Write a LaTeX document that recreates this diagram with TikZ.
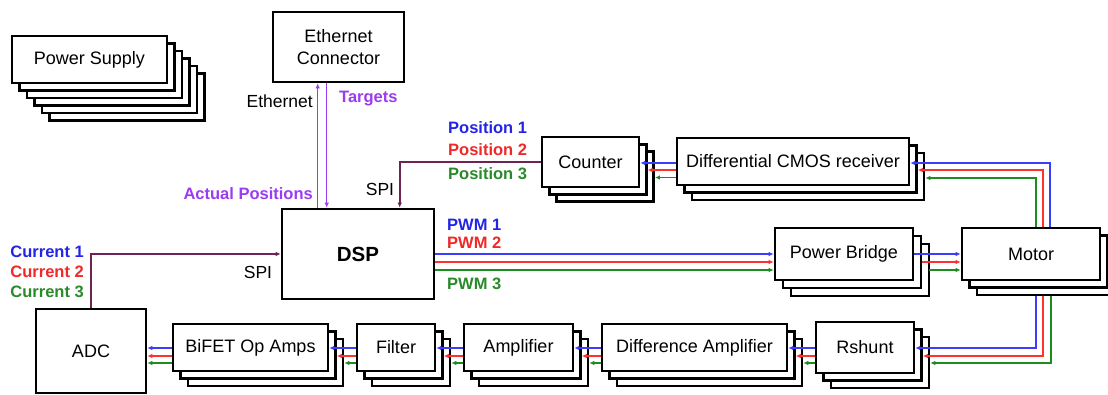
\documentclass[tikz,border=0pt]{standalone}
\usepackage{fontspec}
\setmainfont{Liberation Sans}
\usetikzlibrary{calc,arrows.meta}
\definecolor{cbluet}{HTML}{2424E8}
\definecolor{credt}{HTML}{F02828}
\definecolor{cgreent}{HTML}{2A8A2A}
\definecolor{cbluel}{HTML}{3C3CFF}
\definecolor{credl}{HTML}{FF3030}
\definecolor{cgreenl}{HTML}{1E8C1E}
\definecolor{cpur}{HTML}{9B3CF0}
\definecolor{cspi}{RGB}{110,35,85}
\newcommand\stackbox[8]{%
  \ifnum#6>0
  \foreach \k in {#6,...,1}{%
    \draw[layer] (#2-#4/2+\k*#7, #3-#5/2+\k*#7) rectangle (#2+#4/2+\k*#7, #3+#5/2+\k*#7);}%
  \fi
  \node[box, minimum width=#4pt, minimum height=#5pt] (#1) at (#2,#3) {#8};}
\newcommand\trilines[3]{%
  \coordinate (t1) at ($(#1.west)+(0,0.5)$);
  \draw[cbl] (t1) -- (t1 -| #2.east);
  \coordinate (t2) at ($(#1.west)+(0,8.5)$);
  \draw[crl] (t2) -- ($(t2 -| #2.east)+(#3,0)$);
  \coordinate (t3) at ($(#1.west)+(0,15.5)$);
  \draw[cgl] (t3) -- ($(t3 -| #2.east)+({2*#3},0)$);}
\begin{document}
\begin{tikzpicture}[x=1pt,y=-1pt,
  box/.style={draw=black, line width=2.6pt, fill=white, inner sep=0pt, align=center,
    font=\fontsize{18}{22}\selectfont},
  layer/.style={draw=black, line width=2.6pt, fill=white},
  lab/.style={inner sep=0pt, font=\bfseries\fontsize{16.5}{19}\selectfont},
  txt/.style={inner sep=0pt, font=\fontsize{17.5}{20}\selectfont},
  tip/.style={-{Latex[length=5pt,width=4.5pt]}},
  cbl/.style={tip, draw=cbluel, line width=1.1pt},
  crl/.style={tip, draw=credl, line width=1.1pt},
  cgl/.style={tip, draw=cgreenl, line width=1.1pt},
  pconn/.style={tip, draw=cpur, line width=1.4pt},
  spi/.style={tip, draw=cspi, line width=1.8pt}]
\clip (0,0) rectangle (1108,394);
\fill[white] (0,0) rectangle (1108,394);
% boxes
\stackbox{ps}{89.5}{59.5}{155}{47}{5}{7.5}{Power Supply}
\stackbox{eth}{338.5}{47}{131}{70}{0}{0}{Ethernet\\Connector}
\stackbox{dsp}{358}{254}{152}{90}{0}{0}{\bfseries\fontsize{20.5}{24}\selectfont DSP}
\stackbox{counter}{590.5}{162}{97}{50}{2}{7.3}{Counter}
\stackbox{diff}{793}{161.5}{232}{47}{2}{7.5}{Differential CMOS receiver}
\stackbox{pb}{844}{254}{138}{52}{2}{8}{Power Bridge}
\stackbox{motor}{1031}{254}{138}{52}{2}{7.5}{Motor}
\stackbox{adc}{91}{351}{110}{84}{0}{0}{ADC}
\stackbox{bifet}{250.5}{347.5}{155}{47}{2}{7.5}{BiFET Op Amps}
\stackbox{filt}{396}{347.5}{78}{47}{2}{7.5}{Filter}
\stackbox{amp}{518.5}{347.5}{109}{47}{2}{7.5}{Amplifier}
\stackbox{damp}{694.5}{347.5}{185}{47}{2}{7.5}{Difference Amplifier}
\stackbox{rs}{865}{347.5}{98}{51}{2}{7.5}{Rshunt}
% ethernet connectors
\coordinate (e1) at ($(dsp.north west)+(37,0)$);
\coordinate (e2) at ($(dsp.north west)+(46,0)$);
\draw[pconn] (e1) -- (e1 |- eth.south);
\draw[pconn] (e2 |- eth.south) -- (e2);
% SPI lines
\coordinate (s1) at ($(dsp.north west)+(119,0)$);
\draw[spi] (counter.west) -| (s1);
\draw[spi] (adc.north) |- (dsp.west);
% Diff -> Counter
\coordinate (d1) at ($(diff.west)+(0,1.5)$);
\draw[cbl] (d1) -- (d1 -| counter.east);
\coordinate (d2) at ($(diff.west)+(0,8.5)$);
\draw[crl] (d2) -- ($(d2 -| counter.east)+(7.3,0)$);
\coordinate (d3) at ($(diff.west)+(0,16)$);
\draw[cgl] (d3) -- ($(d3 -| counter.east)+(14.6,0)$);
% Motor -> Diff
\draw[cbl] ($(motor.north)+(19,0)$) |- ($(diff.east)+(0,1.5)$);
\draw[crl] ($(motor.north)+(12,0)$) |- ($(diff.east)+(7.5,8.5)$);
\draw[cgl] ($(motor.north)+(5,0)$) |- ($(diff.east)+(15,16.5)$);
% DSP -> Power Bridge
\coordinate (p1) at (dsp.east);
\draw[cbl] (p1) -- (p1 -| pb.west);
\coordinate (p2) at ($(dsp.east)+(0,8)$);
\draw[crl] (p2) -- (p2 -| pb.west);
\coordinate (p3) at ($(dsp.east)+(0,16)$);
\draw[cgl] (p3) -- (p3 -| pb.west);
% Power Bridge -> Motor
\coordinate (q1) at (pb.east);
\draw[cbl] (q1) -- (q1 -| motor.west);
\coordinate (q2) at ($(pb.east)+(8,8)$);
\draw[crl] (q2) -- (q2 -| motor.west);
\coordinate (q3) at ($(pb.east)+(15,16)$);
\draw[cgl] (q3) -- (q3 -| motor.west);
% Motor -> Rshunt
\draw[cbl] ($(motor.south)+(5,15)$) |- ($(rs.east)+(0,0.5)$);
\draw[crl] ($(motor.south)+(12,15)$) |- ($(rs.east)+(7.5,8.5)$);
\draw[cgl] ($(motor.south)+(20,15)$) |- ($(rs.east)+(15,15.5)$);
% bottom chain
\trilines{rs}{damp}{7.5}
\trilines{damp}{amp}{7.5}
\trilines{amp}{filt}{7.5}
\trilines{filt}{bifet}{7.5}
\trilines{bifet}{adc}{0}
% labels
\node[txt, anchor=east] (lEth) at (313,101) {Ethernet};
\node[lab, text=cpur, anchor=west] (lTar) at (339,99) {Targets};
\node[lab, text=cpur, anchor=east] (lAct) at (313,194) {Actual Positions};
\node[txt] (lSpiA) at (380,189) {SPI};
\node[lab, text=cbluet, anchor=west] (lPos1) at (448,128) {Position 1};
\node[lab, text=credt, anchor=west] (lPos2) at (448,150) {Position 2};
\node[lab, text=cgreent, anchor=west] (lPos3) at (448,174) {Position 3};
\node[lab, text=cbluet, anchor=west] (lPwm1) at (447,225) {PWM 1};
\node[lab, text=credt, anchor=west] (lPwm2) at (447,243) {PWM 2};
\node[lab, text=cgreent, anchor=west] (lPwm3) at (447,284) {PWM 3};
\node[lab, text=cbluet, anchor=east] (lCur1) at (84,252) {Current 1};
\node[lab, text=credt, anchor=east] (lCur2) at (84,272) {Current 2};
\node[lab, text=cgreent, anchor=east] (lCur3) at (84,292) {Current 3};
\node[txt] (lSpiB) at (258,272) {SPI};
\end{tikzpicture}
\end{document}
